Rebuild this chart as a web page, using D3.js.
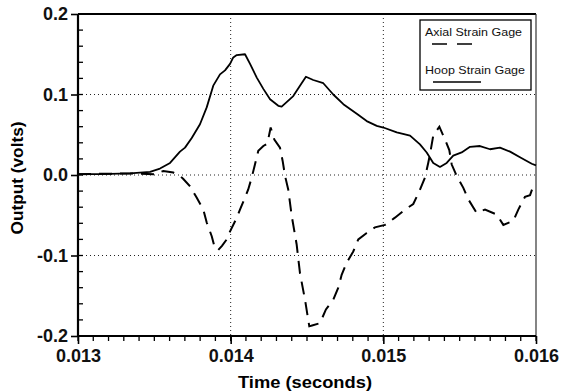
<!DOCTYPE html>
<html>
<head>
<meta charset="utf-8">
<script src="https://cdn.jsdelivr.net/npm/d3@7"></script>
<style>
  body { margin: 0; background: #fff; }
  svg { display: block; }
  .tick text { font-family: "Liberation Sans", Arial, sans-serif; font-weight: bold; font-size: 18px; fill: #111; }
</style>
</head>
<body>
<svg width="571" height="391"></svg>
<script>
// time in seconds, output in volts
const hoopTime = [0.013, 0.013144, 0.013341, 0.013472, 0.013537, 0.013603, 0.013668, 0.013701, 0.013745, 0.013799,
  0.013843, 0.013886, 0.01393, 0.013963, 0.013996, 0.014017, 0.01404, 0.014094, 0.014127, 0.014171,
  0.014214, 0.014258, 0.014312, 0.014334, 0.01441, 0.014454, 0.014493, 0.014541, 0.014607, 0.014672,
  0.014738, 0.014826, 0.014891, 0.014957, 0.015, 0.015088, 0.015175, 0.01524, 0.015284, 0.015327,
  0.015371, 0.015415, 0.015458, 0.015513, 0.015568, 0.015633, 0.015699, 0.015764, 0.01583, 0.015895,
  0.015972, 0.016];
const hoopOut = [0.001, 0.001, 0.002, 0.004, 0.008, 0.015, 0.029, 0.034, 0.046, 0.063,
  0.084, 0.111, 0.125, 0.130, 0.138, 0.146, 0.149, 0.150, 0.138, 0.121,
  0.107, 0.094, 0.086, 0.085, 0.098, 0.111, 0.122, 0.118, 0.114, 0.100,
  0.088, 0.076, 0.067, 0.061, 0.059, 0.053, 0.049, 0.038, 0.028, 0.015,
  0.010, 0.015, 0.024, 0.028, 0.035, 0.036, 0.032, 0.034, 0.029, 0.022,
  0.014, 0.012];

const axialTime = [0.013, 0.013341, 0.013504, 0.013559, 0.013624, 0.013668, 0.01369, 0.013734, 0.013777, 0.013821,
  0.013843, 0.013876, 0.013897, 0.013919, 0.013943, 0.013974, 0.013996, 0.01404, 0.014061, 0.014094,
  0.014115, 0.014138, 0.014159, 0.014181, 0.014214, 0.01424, 0.014262, 0.014286, 0.014323, 0.014341,
  0.014356, 0.014377, 0.0144, 0.014432, 0.014454, 0.014487, 0.014515, 0.014533, 0.014585, 0.014624,
  0.014672, 0.014705, 0.014727, 0.01476, 0.014803, 0.014836, 0.014891, 0.014945, 0.015011, 0.015076,
  0.015142, 0.015196, 0.015236, 0.015273, 0.015294, 0.015306, 0.015327, 0.015367, 0.015404, 0.015432,
  0.015448, 0.01548, 0.015524, 0.015556, 0.015611, 0.015633, 0.015666, 0.015742, 0.015786, 0.015851,
  0.015884, 0.015928, 0.015961, 0.01598, 0.016];
const axialOut = [0.001, 0.002, 0.001, 0.005, 0.003, -0.001, -0.005, -0.014, -0.028, -0.043,
  -0.059, -0.076, -0.091, -0.093, -0.088, -0.080, -0.070, -0.053, -0.043, -0.028,
  -0.018, -0.003, 0.013, 0.030, 0.036, 0.039, 0.059, 0.044, 0.034, 0.017,
  -0.001, -0.018, -0.051, -0.086, -0.122, -0.155, -0.188, -0.187, -0.184, -0.167,
  -0.155, -0.140, -0.124, -0.109, -0.095, -0.080, -0.072, -0.065, -0.062, -0.053,
  -0.043, -0.036, -0.020, -0.003, 0.015, 0.026, 0.049, 0.060, 0.044, 0.031,
  0.013, -0.001, -0.016, -0.030, -0.047, -0.045, -0.043, -0.049, -0.062, -0.057,
  -0.043, -0.027, -0.025, -0.015, -0.012];

const xTicks = [0.013, 0.014, 0.015, 0.016];
const yTicks = [-0.2, -0.1, 0.0, 0.1, 0.2];
const legendNames = ["Axial Strain Gage", "Hoop Strain Gage"];

const svg = d3.select('svg');
const plotL = 78, plotR = 536, plotT = 14, plotB = 336;

const x = d3.scaleLinear().domain([0.013, 0.016]).range([plotL, plotR]);
const y = d3.scaleLinear().domain([-0.2, 0.2]).range([plotB, plotT]);

// dotted grid
const grid = svg.append('g').attr('stroke', '#222').attr('stroke-width', 1).attr('stroke-dasharray', '1,3');
[0.014, 0.015].forEach(t => {
    grid.append('line').attr('x1', x(t)).attr('x2', x(t)).attr('y1', plotT).attr('y2', plotB);
});
[-0.1, 0.0, 0.1].forEach(v => {
    grid.append('line').attr('x1', plotL).attr('x2', plotR).attr('y1', y(v)).attr('y2', y(v));
});

// frame top / right
svg.append('line').attr('x1', plotL).attr('x2', plotR).attr('y1', plotT).attr('y2', plotT)
    .attr('stroke', '#000').attr('stroke-width', 2.2);
svg.append('line').attr('x1', plotR).attr('x2', plotR).attr('y1', plotT).attr('y2', plotB)
    .attr('stroke', '#333').attr('stroke-width', 1.2);

const hyphen = f => d => f(d).replace('\u2212', '-');

// minor ticks: x every 0.0001 pointing down, y every 0.02 pointing in
const xMinor = d3.range(0, 31).map(i => 0.013 + i * 0.0001);
const yMinor = d3.range(0, 21).map(i => -0.2 + i * 0.02);
const minor = svg.append('g').attr('stroke', '#000').attr('stroke-width', 1.3);
minor.selectAll('line.xm').data(xMinor).enter().append('line')
    .attr('class', 'xm')
    .attr('x1', d => x(d)).attr('x2', d => x(d))
    .attr('y1', plotB).attr('y2', plotB + 5);
minor.selectAll('line.ym').data(yMinor).enter().append('line')
    .attr('class', 'ym')
    .attr('x1', plotL).attr('x2', plotL + 5)
    .attr('y1', d => y(d)).attr('y2', d => y(d));

svg.append('g')
    .attr('transform', `translate(0,${plotB})`)
    .call(d3.axisBottom(x).tickValues(xTicks).tickSize(8).tickPadding(5).tickFormat(hyphen(d3.format('.3f'))))
    .call(g => g.select('.domain').attr('stroke-width', 2.2).attr('d', `M${plotL},0H${plotR}`))
    .selectAll('line').attr('stroke-width', 1.6);

svg.append('g')
    .attr('transform', `translate(${plotL},0)`)
    .call(d3.axisLeft(y).tickValues(yTicks).tickSize(7).tickPadding(3).tickFormat(hyphen(d3.format('.1f'))))
    .call(g => g.select('.domain').attr('stroke-width', 2.2).attr('d', `M0,${plotT}V${plotB}`))
    .selectAll('line').attr('stroke-width', 1.6);

// axis titles
svg.append('text')
    .attr('x', 305).attr('y', 388)
    .attr('text-anchor', 'middle')
    .attr('textLength', 134).attr('lengthAdjust', 'spacingAndGlyphs')
    .style('font-family', '"Liberation Sans", Arial, sans-serif')
    .style('font-weight', 'bold').style('font-size', '17px')
    .text('Time (seconds)');
svg.append('text')
    .attr('transform', `translate(23,178) rotate(-90)`)
    .attr('text-anchor', 'middle')
    .attr('textLength', 113).attr('lengthAdjust', 'spacingAndGlyphs')
    .style('font-family', '"Liberation Sans", Arial, sans-serif')
    .style('font-weight', 'bold').style('font-size', '17px')
    .text('Output (volts)');

// curves
const line = d3.line().x(d => x(d[0])).y(d => y(d[1]));
svg.append('path')
    .attr('d', line(d3.zip(hoopTime, hoopOut)))
    .attr('fill', 'none').attr('stroke', '#000').attr('stroke-width', 1.8)
    .attr('stroke-linejoin', 'round');
svg.append('path')
    .attr('d', line(d3.zip(axialTime, axialOut)))
    .attr('fill', 'none').attr('stroke', '#000').attr('stroke-width', 2)
    .attr('stroke-dasharray', '13,8');

// legend
const lg = svg.append('g');
lg.append('rect').attr('x', 420).attr('y', 20).attr('width', 111).attr('height', 70)
    .attr('fill', '#fff').attr('stroke', '#000').attr('stroke-width', 1.3);
lg.selectAll('text').data(legendNames).enter().append('text')
    .attr('x', 425).attr('y', (d, i) => 36 + i * 38)
    .style('font-family', '"Liberation Sans", Arial, sans-serif')
    .style('font-size', '11.5px').attr('fill', '#111')
    .attr('textLength', (d, i) => i === 0 ? 97 : 100)
    .attr('lengthAdjust', 'spacingAndGlyphs')
    .text(d => d);
lg.append('line').attr('x1', 432).attr('x2', 478).attr('y1', 44).attr('y2', 44)
    .attr('stroke', '#000').attr('stroke-width', 1.3).attr('stroke-dasharray', '15,10');
lg.append('line').attr('x1', 433).attr('x2', 481).attr('y1', 82).attr('y2', 82)
    .attr('stroke', '#000').attr('stroke-width', 1.3);
</script>
</body>
</html>
